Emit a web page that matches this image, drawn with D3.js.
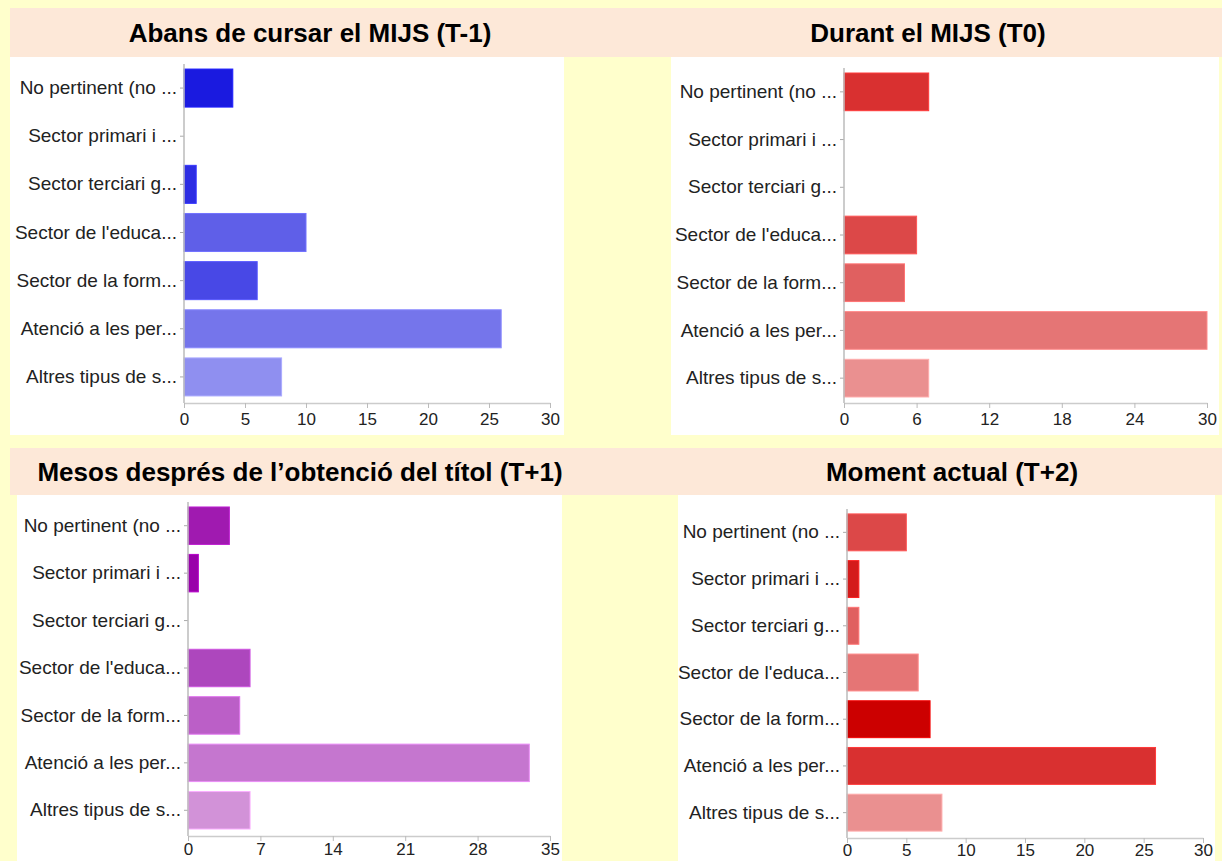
<!DOCTYPE html>
<html>
<head>
<meta charset="utf-8">
<script src="https://cdn.jsdelivr.net/npm/d3@7"></script>
<style>
  html, body { margin: 0; padding: 0; background: #ffffcc; }
  svg { display: block; font-family: "Liberation Sans", Arial, sans-serif; }
  .cat text, .num text { fill: #222; }
</style>
</head>
<body>
<div id="chart"></div>
<script>
// categories (as shown, truncated)
const categories = [
  "No pertinent (no ...",
  "Sector primari i ...",
  "Sector terciari g...",
  "Sector de l'educa...",
  "Sector de la form...",
  "Atenció a les per...",
  "Altres tipus de s..."
];

const titles = [
  "Abans de cursar el MIJS (T-1)",
  "Durant el MIJS (T0)",
  "Mesos després de l’obtenció del títol (T+1)",
  "Moment actual (T+2)"
];

// responses per category
const valuesBefore = [4, 0, 1, 10, 6, 26, 8];
const valuesDuring = [7, 0, 0, 6, 5, 30, 7];
const valuesAfter = [4, 1, 0, 6, 5, 33, 6];
const valuesNow = [5, 1, 1, 6, 7, 26, 8];

// x tick labels
const ticksBefore = [0, 5, 10, 15, 20, 25, 30];
const ticksDuring = [0, 6, 12, 18, 24, 30];
const ticksAfter = [0, 7, 14, 21, 28, 35];
const ticksNow = [0, 5, 10, 15, 20, 25, 30];

// bar colours
const blues = ["#1a1ae0", "#1a1ae0", "#2d2de3", "#5f5fe8", "#4848e6", "#7575eb", "#8f8ff0"];
const redsA = ["#d93030", "#d93030", "#d93030", "#dc4848", "#e06060", "#e57575", "#ea9090"];
const purples = ["#a01ab0", "#9900aa", "#9900aa", "#ad47bd", "#bb5fc7", "#c576cf", "#d292d8"];
const redsB = ["#dc4848", "#d41b1b", "#e06060", "#e57575", "#cc0000", "#d93030", "#ea9090"];

const W = 1222, H = 861;

const svg = d3.select('#chart')
  .append('svg')
  .attr('width', W)
  .attr('height', H);

svg.append('rect').attr('width', W).attr('height', H).attr('fill', '#ffffcc');

// title bands
svg.append('rect').attr('x', 10).attr('y', 8).attr('width', W - 10).attr('height', 49).attr('fill', '#fde8d8');
svg.append('rect').attr('x', 10).attr('y', 448).attr('width', W - 10).attr('height', 47).attr('fill', '#fde8d8');

const panels = [
  { title: titles[0], values: valuesBefore, ticks: ticksBefore, max: 30, colors: blues,
    box: [10, 57, 554, 378], titleX: 310, titleY: 42, x0: 184, x1: 550, y0: 64, y1: 401, axisY: 403, pad: 5 },
  { title: titles[1], values: valuesDuring, ticks: ticksDuring, max: 30, colors: redsA,
    box: [671, 57, 548, 378], titleX: 928, titleY: 42, x0: 844, x1: 1207, y0: 68, y1: 402, axisY: 403, pad: 5 },
  { title: titles[2], values: valuesAfter, ticks: ticksAfter, max: 35, colors: purples,
    box: [17, 495, 545, 366], titleX: 300, titleY: 481, x0: 188, x1: 550, y0: 502, y1: 834, axisY: 836, pad: 2 },
  { title: titles[3], values: valuesNow, ticks: ticksNow, max: 30, colors: redsB,
    box: [678, 495, 537, 366], titleX: 952, titleY: 481, x0: 847, x1: 1203, y0: 509, y1: 836, axisY: 838, pad: 1 }
];

panels.forEach(p => {
  const g = svg.append('g');

  // white plot background
  g.append('rect')
    .attr('x', p.box[0]).attr('y', p.box[1])
    .attr('width', p.box[2]).attr('height', p.box[3])
    .attr('fill', '#ffffff');

  // title
  g.append('text')
    .attr('x', p.titleX)
    .attr('y', p.titleY)
    .attr('text-anchor', 'middle')
    .attr('font-size', 26)
    .attr('font-weight', 'bold')
    .attr('fill', '#000')
    .text(p.title);

  const x = d3.scaleLinear()
    .domain([0, p.max])
    .range([p.x0, p.x1]);

  const y = d3.scaleBand()
    .domain(categories)
    .range([p.y0, p.y1])
    .paddingInner(0.21)
    .paddingOuter(0.105);

  const rows = categories.map((c, i) => ({ cat: c, value: p.values[i], color: p.colors[i] }));

  // bars
  g.selectAll('rect.bar')
    .data(rows.filter(d => d.value > 0))
    .enter()
    .append('rect')
    .attr('class', 'bar')
    .attr('x', x(0))
    .attr('y', d => y(d.cat))
    .attr('width', d => x(d.value) - x(0))
    .attr('height', y.bandwidth())
    .attr('fill', d => d.color)
    .attr('stroke', d => d3.color(d.color).brighter(0.5))
    .attr('stroke-width', 1);

  // Y axis
  const yAxis = g.append('g')
    .attr('class', 'cat')
    .attr('transform', `translate(${p.x0}, 0)`)
    .call(d3.axisLeft(y).tickSize(4).tickPadding(3).tickSizeOuter(0));
  yAxis.select('.domain').remove();
  yAxis.selectAll('line').attr('stroke', '#aaa');
  yAxis.selectAll('text').attr('font-size', 19).attr('font-family', '"Liberation Sans", Arial, sans-serif');
  g.append('line')
    .attr('x1', p.x0).attr('x2', p.x0)
    .attr('y1', p.y0).attr('y2', p.axisY)
    .attr('stroke', '#bbb').attr('stroke-width', 1.5);

  // X axis
  const xAxis = g.append('g')
    .attr('class', 'num')
    .attr('transform', `translate(0, ${p.axisY})`)
    .call(d3.axisBottom(x).tickValues(p.ticks).tickSize(5).tickPadding(p.pad).tickSizeOuter(0));
  xAxis.select('.domain').attr('stroke', '#ccc').attr('stroke-width', 1.5);
  xAxis.selectAll('line').attr('stroke', '#bbb');
  xAxis.selectAll('text').attr('font-size', 17).attr('font-family', '"Liberation Sans", Arial, sans-serif');
});
</script>
</body>
</html>
